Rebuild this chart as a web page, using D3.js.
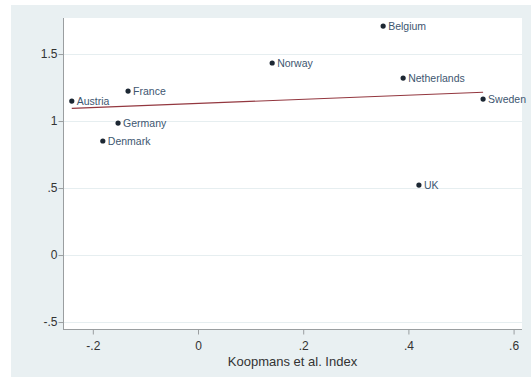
<!DOCTYPE html>
<html>
<head>
<meta charset="utf-8">
<script src="https://cdn.jsdelivr.net/npm/d3@7"></script>
<style>
  html, body { margin: 0; padding: 0; background: #ffffff; }
  svg { display: block; font-family: "Liberation Sans", Arial, sans-serif; }
</style>
</head>
<body>
<svg id="chart" width="531" height="378"></svg>
<script>
// Countries and their index values
const countries = ["Belgium", "Norway", "Netherlands", "Sweden", "Austria", "France", "Germany", "Denmark", "UK"];
const koopmansIndex = [0.352, 0.141, 0.390, 0.542, -0.240, -0.133, -0.152, -0.181, 0.420];
const outcome = [1.709, 1.433, 1.321, 1.164, 1.149, 1.224, 0.985, 0.851, 0.522];

// Axis ticks and their labels
const xTicks = [-0.2, 0, 0.2, 0.4, 0.6];
const xTickLabels = ["-.2", "0", ".2", ".4", ".6"];
const yTicks = [-0.5, 0, 0.5, 1, 1.5];
const yTickLabels = ["-.5", "0", ".5", "1", "1.5"];
const xTitle = "Koopmans et al. Index";

const svg = d3.select("#chart");
const W = 531, H = 378;
const plot = { left: 63, right: 522, top: 18, bottom: 329 };

// Graph region background
svg.append("rect")
  .attr("x", 11).attr("y", 5)
  .attr("width", W - 11).attr("height", 372)
  .attr("fill", "#e9f0f2");

// Plot region
svg.append("rect")
  .attr("x", plot.left).attr("y", plot.top)
  .attr("width", plot.right - plot.left).attr("height", plot.bottom - plot.top)
  .attr("fill", "#ffffff");

const x = d3.scaleLinear().domain([-0.2567, 0.616]).range([plot.left, plot.right]);
const y = d3.scaleLinear().domain([-0.552, 1.769]).range([plot.bottom, plot.top]);

// Horizontal grid lines
svg.append("g")
  .selectAll("line")
  .data(yTicks)
  .join("line")
  .attr("x1", plot.left).attr("x2", plot.right)
  .attr("y1", d => Math.round(y(d)) + 0.5).attr("y2", d => Math.round(y(d)) + 0.5)
  .attr("stroke", "#e6eef0")
  .attr("stroke-width", 1);

// Y axis
const yAxis = svg.append("g")
  .attr("transform", `translate(${plot.left + 0.5},0)`)
  .call(d3.axisLeft(y)
    .tickValues(yTicks)
    .tickFormat((d, i) => yTickLabels[i])
    .tickSize(5)
    .tickPadding(1)
    .tickSizeOuter(0));

// X axis
const xAxis = svg.append("g")
  .attr("transform", `translate(0,${plot.bottom + 0.5})`)
  .call(d3.axisBottom(x)
    .tickValues(xTicks)
    .tickFormat((d, i) => xTickLabels[i])
    .tickSize(5)
    .tickPadding(7)
    .tickSizeOuter(0));

[yAxis, xAxis].forEach(g => {
  g.select(".domain").attr("stroke", "#9a9ea0");
  g.selectAll(".tick line").attr("stroke", "#9a9ea0");
  g.selectAll(".tick text")
    .attr("fill", "#333333")
    .style("font-size", "12px")
    .style("font-family", "'Liberation Sans', Arial, sans-serif");
});
yAxis.select(".domain").attr("d", `M0,${plot.top}V${plot.bottom}`);
xAxis.select(".domain").attr("d", `M${plot.left},0H${plot.right}`);

// Axis title
svg.append("text")
  .attr("x", (plot.left + plot.right) / 2)
  .attr("y", 366)
  .attr("text-anchor", "middle")
  .attr("fill", "#333333")
  .style("font-size", "13px")
  .text(xTitle);

// Linear fit (least squares) over the observed range
const n = koopmansIndex.length;
const mx = d3.mean(koopmansIndex), my = d3.mean(outcome);
let sxy = 0, sxx = 0;
for (let i = 0; i < n; i++) {
  sxy += (koopmansIndex[i] - mx) * (outcome[i] - my);
  sxx += (koopmansIndex[i] - mx) ** 2;
}
const slope = sxy / sxx, intercept = my - slope * mx;
const [xMin, xMax] = d3.extent(koopmansIndex);
svg.append("path")
  .datum([xMin, xMax])
  .attr("d", d3.line().x(d => x(d)).y(d => y(intercept + slope * d)))
  .attr("fill", "none")
  .attr("stroke", "#93373f")
  .attr("stroke-width", 1.2);

// Points and country labels
const pts = countries.map((c, i) => ({ name: c, xv: koopmansIndex[i], yv: outcome[i] }));
const g = svg.append("g");
g.selectAll("circle")
  .data(pts)
  .join("circle")
  .attr("cx", d => x(d.xv))
  .attr("cy", d => y(d.yv))
  .attr("r", 2.6)
  .attr("fill", "#1c2733");
g.selectAll("text")
  .data(pts)
  .join("text")
  .attr("x", d => x(d.xv) + 5)
  .attr("y", d => y(d.yv))
  .attr("dy", "0.34em")
  .attr("fill", "#3d5670")
  .style("font-size", "10.5px")
  .text(d => d.name);
</script>
</body>
</html>
